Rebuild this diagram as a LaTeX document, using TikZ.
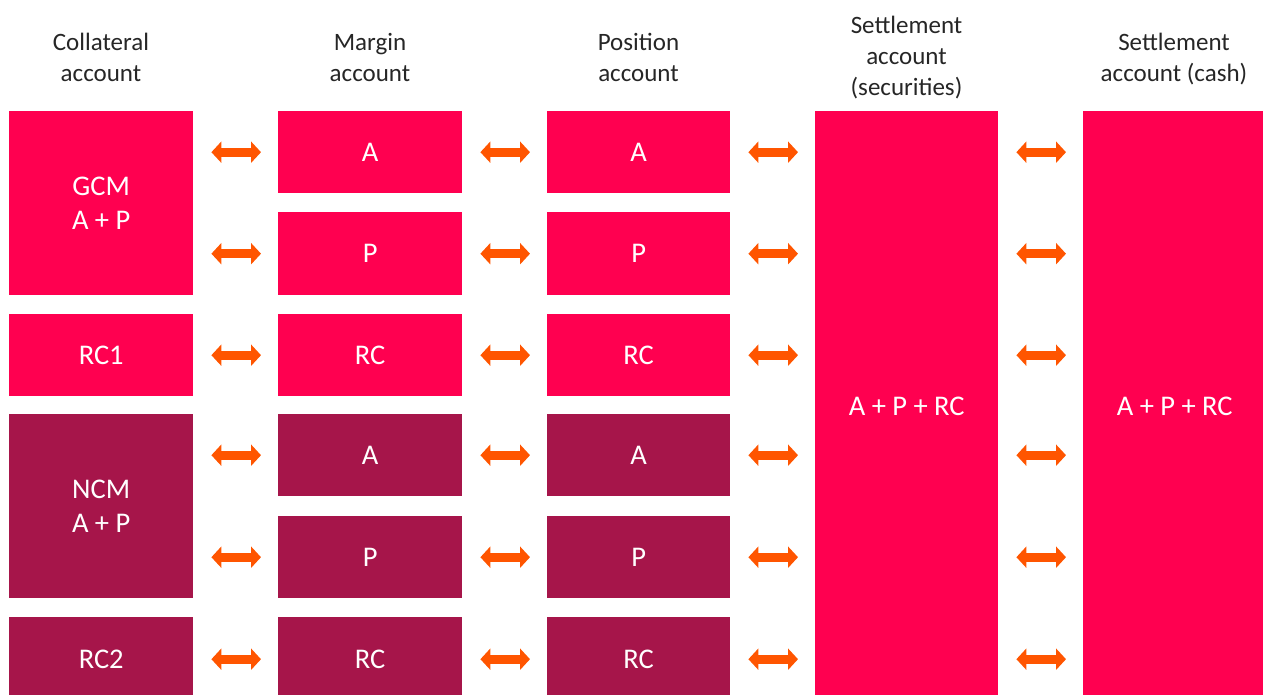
\documentclass[tikz,border=0pt]{standalone}
\usepackage{fontspec}
\setmainfont{Carlito}
\usetikzlibrary{arrows.meta}
\definecolor{pinkbox}{RGB}{255,0,80}
\definecolor{darkbox}{RGB}{166,21,74}
\definecolor{arrowor}{RGB}{255,85,0}
\definecolor{headtxt}{RGB}{38,38,38}
\begin{document}
\begin{tikzpicture}[x=1bp,y=-1bp,
  box/.style={rectangle,inner sep=0pt,anchor=north west,text=white,align=center,
    font=\fontsize{28.5bp}{34bp}\selectfont},
  pbox/.style={box,fill=pinkbox},
  dbox/.style={box,fill=darkbox},
  head/.style={align=center,text=headtxt,inner sep=0pt,
    font=\fontsize{25bp}{31bp}\selectfont},
  darr/.style={draw=arrowor,line width=9bp,
    {Triangle[width=21bp,length=10bp]}-{Triangle[width=21bp,length=10bp]},
    shorten <=18bp,shorten >=17bp}
]
\useasboundingbox (0,0) rectangle (1263,695);
\clip (0,0) rectangle (1263,695);
% headers
\node[head] (h1) at (101,57) {Collateral\\account};
\node[head] (h2) at (370,57) {Margin\\account};
\node[head] (h3) at (638.5,57) {Position\\account};
\node[head] (h4) at (906.5,58) {Settlement\\account\\(securities)};
\node[head] (h5) at (1174,59) {Settlement\\account (cash)};
% column 1
\node[pbox,minimum width=184bp,minimum height=184bp] (gcm) at (9,111) {GCM\\A + P};
\node[pbox,minimum width=184bp,minimum height=82bp] (rc1) at (9,314) {RC1};
\node[dbox,minimum width=184bp,minimum height=184bp] (ncm) at (9,414) {NCM\\A + P};
\node[dbox,minimum width=184bp,minimum height=84bp] (rc2) at (9,617) {RC2};
% column 2
\node[pbox,minimum width=184bp,minimum height=82bp] (ma1) at (278,111) {A};
\node[pbox,minimum width=184bp,minimum height=83bp] (mp1) at (278,212) {P};
\node[pbox,minimum width=184bp,minimum height=82bp] (mr1) at (278,314) {RC};
\node[dbox,minimum width=184bp,minimum height=82bp] (ma2) at (278,414) {A};
\node[dbox,minimum width=184bp,minimum height=82bp] (mp2) at (278,516) {P};
\node[dbox,minimum width=184bp,minimum height=84bp] (mr2) at (278,617) {RC};
% column 3
\node[pbox,minimum width=183bp,minimum height=82bp] (pa1) at (547,111) {A};
\node[pbox,minimum width=183bp,minimum height=83bp] (pp1) at (547,212) {P};
\node[pbox,minimum width=183bp,minimum height=82bp] (pr1) at (547,314) {RC};
\node[dbox,minimum width=183bp,minimum height=82bp] (pa2) at (547,414) {A};
\node[dbox,minimum width=183bp,minimum height=82bp] (pp2) at (547,516) {P};
\node[dbox,minimum width=183bp,minimum height=84bp] (pr2) at (547,617) {RC};
% settlement columns
\node[pbox,minimum width=183bp,minimum height=590bp] (sec) at (815,111) {A + P + RC};
\node[pbox,minimum width=183bp,minimum height=590bp] (cash) at (1083,111) {A + P + RC};
% arrows col1 -> col2
\draw[darr] (gcm.east |- ma1.west) -- (ma1.west);
\draw[darr] (gcm.east |- mp1.west) -- (mp1.west);
\draw[darr] (rc1.east) -- (mr1.west);
\draw[darr] (ncm.east |- ma2.west) -- (ma2.west);
\draw[darr] (ncm.east |- mp2.west) -- (mp2.west);
\draw[darr] (rc2.east) -- (mr2.west);
% col2 -> col3
\foreach \a/\b in {ma1/pa1,mp1/pp1,mr1/pr1,ma2/pa2,mp2/pp2,mr2/pr2}{
  \draw[darr] (\a.east) -- (\b.west);
}
% col3 -> sec, sec -> cash
\foreach \a in {pa1,pp1,pr1,pa2,pp2,pr2}{
  \draw[darr] (\a.east) -- (sec.west |- \a.east);
  \draw[darr] (sec.east |- \a.east) -- (cash.west |- \a.east);
}
\end{tikzpicture}
\end{document}
